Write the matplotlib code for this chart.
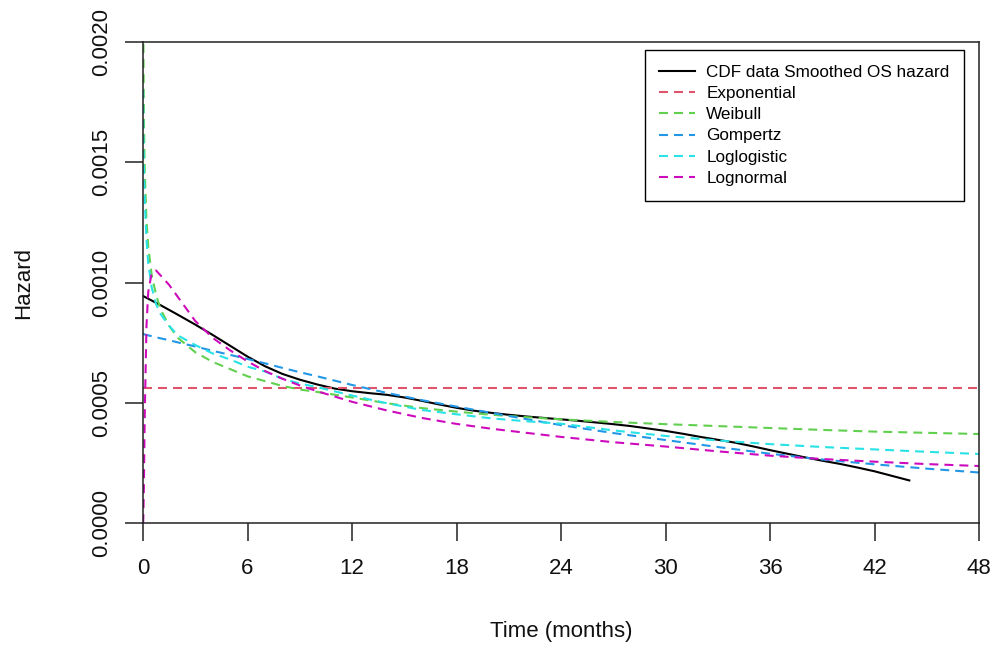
import matplotlib
matplotlib.use("Agg")
import matplotlib.pyplot as plt

plt.rcParams["font.family"] = ["Liberation Sans", "DejaVu Sans"]

# ---- data -------------------------------------------------------------
# Smoothed overall-survival hazard from the CDF data (monthly grid)
t_cdf = list(range(0, 45))
h_cdf = [0.000944, 0.000906, 0.000866, 0.000825, 0.000782, 0.000737, 0.000692,
         0.000652, 0.000620, 0.000596, 0.000576, 0.000559, 0.000548, 0.000540,
         0.000533, 0.000522, 0.000508, 0.000493, 0.000479, 0.000467, 0.000458,
         0.000450, 0.000443, 0.000437, 0.000431, 0.000425, 0.000418, 0.000411,
         0.000403, 0.000393, 0.000383, 0.000371, 0.000358, 0.000346, 0.000334,
         0.000319, 0.000303, 0.000288, 0.000273, 0.000259, 0.000246, 0.000231,
         0.000215, 0.000196, 0.000177]

# Time grid of the parametric hazard curves (months)
t_fit = [0, 0.01, 0.02, 0.05, 0.1, 0.2, 0.3, 0.5, 0.75, 1, 1.5, 2, 3, 4, 5, 6,
         7, 8, 9, 10, 12, 14, 16, 18, 20, 22, 24, 27, 30, 33, 36, 39, 42, 45, 48]

h_exponential = 0.00056
t_exponential = [0, 48]

h_weibull = [float("nan"), 0.00240, 0.00205, 0.00170, 0.00146, 0.00126, 0.00115,
             0.00103, 0.00095, 0.00089, 0.00082, 0.00077, 0.00071, 0.00067,
             0.00064, 0.00061, 0.00059, 0.00057, 0.000555, 0.000545, 0.000522,
             0.000498, 0.000478, 0.000463, 0.00045, 0.00044, 0.000431, 0.00042,
             0.000411, 0.000403, 0.000395, 0.000387, 0.00038, 0.000375, 0.00037]

h_gompertz = [0.000786, 0.000786, 0.000786, 0.000785, 0.000784, 0.000782,
              0.00078, 0.000777, 0.000772, 0.000768, 0.00076, 0.000751,
              0.000734, 0.000716, 0.000699, 0.000682, 0.000664, 0.000645,
              0.000627, 0.00061, 0.000574, 0.000541, 0.000511, 0.000484,
              0.000458, 0.000432, 0.000407, 0.000374, 0.000345, 0.000316,
              0.000288, 0.000264, 0.000244, 0.000226, 0.00021]

h_loglogistic = [float("nan"), 0.00180, 0.00165, 0.00148, 0.00134, 0.00118,
                 0.00108, 0.00098, 0.00091, 0.00087, 0.00082, 0.00078, 0.00074,
                 0.000705, 0.00068, 0.00065, 0.00063, 0.0006, 0.00058, 0.000565,
                 0.00053, 0.000498, 0.00047, 0.000452, 0.000435, 0.000423,
                 0.000413, 0.000385, 0.000362, 0.000343, 0.000328, 0.000316,
                 0.000306, 0.000296, 0.000287]

h_lognormal = [0.0, 0.0, 0.00003, 0.00015, 0.00045, 0.00082, 0.00096, 0.00104,
               0.00105, 0.00103, 0.00099, 0.00094, 0.00084, 0.00077, 0.000718,
               0.000672, 0.000632, 0.0006, 0.000572, 0.000548, 0.000504,
               0.000468, 0.000437, 0.000412, 0.000392, 0.000375, 0.000358,
               0.000336, 0.000318, 0.000298, 0.00028, 0.000266, 0.000255,
               0.000245, 0.000237]

x_ticks = [0, 6, 12, 18, 24, 30, 36, 42, 48]
y_ticks = [0.0, 0.0005, 0.0010, 0.0015, 0.0020]
y_tick_labels = ["0.0000", "0.0005", "0.0010", "0.0015", "0.0020"]

legend_labels = ["CDF data Smoothed OS hazard", "Exponential", "Weibull",
                 "Gompertz", "Loglogistic", "Lognormal"]

# ---- figure -----------------------------------------------------------
W, H = 996, 648
fig = plt.figure(figsize=(W / 100, H / 100), dpi=100)
ax = fig.add_axes([143 / W, 125 / H, 836 / W, 481 / H])

lw = 1.5
dash = (0, (4.3, 2.9))

ax.plot(t_cdf, h_cdf, color="black", lw=lw, label=legend_labels[0])
ax.plot(t_exponential, [h_exponential] * len(t_exponential), color="#DF536B",
        lw=lw, ls=dash, label=legend_labels[1])
ax.plot(t_fit, h_weibull, color="#61D04F", lw=lw, ls=dash, label=legend_labels[2])
ax.plot(t_fit, h_gompertz, color="#2297E6", lw=lw, ls=dash, label=legend_labels[3])
ax.plot(t_fit, h_loglogistic, color="#28E2E5", lw=lw, ls=dash,
        label=legend_labels[4])
ax.plot(t_fit, h_lognormal, color="#CD0BBC", lw=lw, ls=dash,
        label=legend_labels[5])

ax.set_xlim(0, 48)
ax.set_ylim(0, 0.002)
ax.set_xticks(x_ticks)
ax.set_xticklabels([str(v) for v in x_ticks])
ax.set_yticks(y_ticks)
ax.set_yticklabels(y_tick_labels)

axis_col = "#222222"
for sp in ax.spines.values():
    sp.set_color(axis_col)
    sp.set_linewidth(1.1)

ax.tick_params(direction="out", length=13, width=1.1, color=axis_col,
               labelsize=16, labelcolor="#111111")
ax.tick_params(axis="x", pad=12)
ax.tick_params(axis="y", pad=9, labelrotation=90)
for lbl in ax.get_yticklabels():
    lbl.set_va("center")

fig.text(561 / W, 1 - 632 / H, "Time (months)", ha="center", va="center",
         fontsize=16, color="#111111")
fig.text(24 / W, 1 - 283 / H, "Hazard", ha="center", va="center",
         rotation=90, fontsize=16, color="#111111")

leg = ax.legend(loc="upper right", bbox_to_anchor=(964 / W, 1 - 50 / H),
                bbox_transform=fig.transFigure, borderaxespad=0,
                fontsize=12.3, handlelength=2.1, handletextpad=0.65,
                labelspacing=0.37, borderpad=0.85, fancybox=False,
                framealpha=1, edgecolor="black")
leg.get_frame().set_linewidth(1.0)

fig.savefig("out.png", dpi=100)
